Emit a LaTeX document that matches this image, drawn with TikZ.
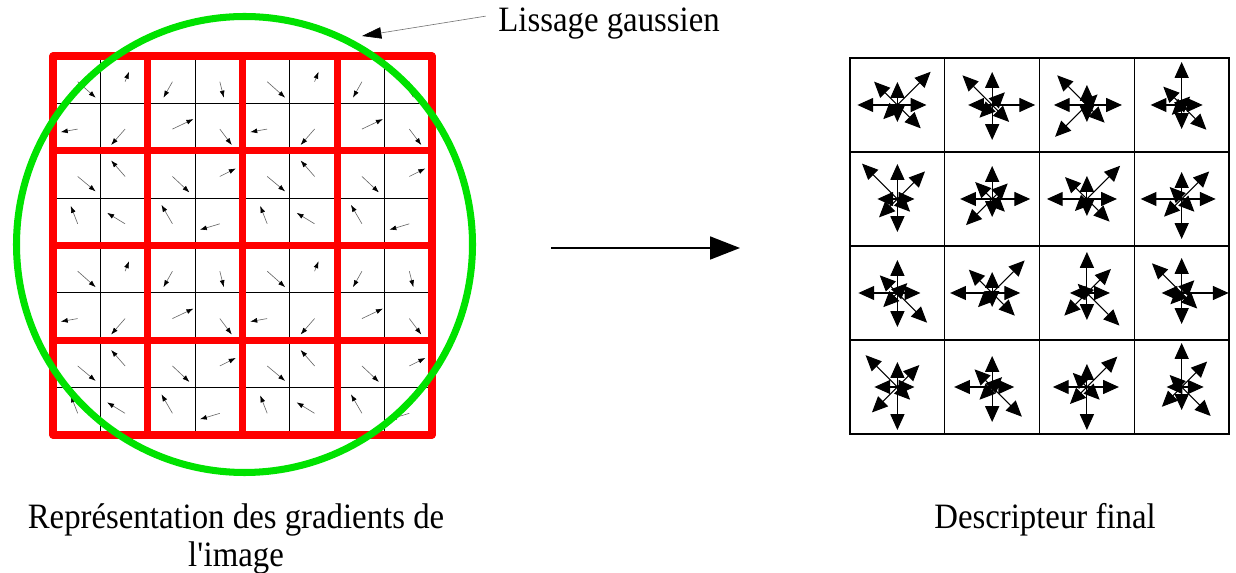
\documentclass[tikz,border=0pt]{standalone}
\usepackage{fontspec}
\setmainfont{Liberation Serif}[FakeStretch=0.92]
\usetikzlibrary{arrows.meta}
\definecolor{blockred}{RGB}{255,0,0}
\definecolor{windowgreen}{RGB}{0,226,0}

\begin{document}
\begin{tikzpicture}[x=0.02cm, y=-0.02cm,
  caption/.style={font=\fontsize{20.3}{21.5}\selectfont, inner sep=0pt},
  cellline/.style={draw=black, line width=0.7pt},
  blockline/.style={draw=blockred, line width=4pt, line join=round},
  window/.style={draw=windowgreen, line width=4pt},
  gradarrow/.style={draw=black!60, line width=0.35pt, -{Latex[length=4pt, width=2.8pt, color=black]}},
  binline/.style={draw=black, line width=0.7pt},
  binarrow/.style={draw=black, line width=0.6pt, -{Triangle[length=9pt, width=8pt]}},
  flow/.style={draw=black, line width=1.1pt, -{Triangle[length=17pt, width=13pt]}},
  pointer/.style={draw=black!55, line width=0.35pt, -{Triangle[length=11pt, width=6.5pt, color=black]}},
]
\useasboundingbox (0,0) rectangle (1236,573);

% ---------- gradient field: 8x8 cells, the 4x4 pattern tiled twice each way ----------
\foreach \tx in {0,1}
  \foreach \ty in {0,1}
    \foreach \r/\c/\dx/\dy in {0/0/18/16, 0/1/4/-10, 0/2/-9/16, 0/3/4/16,
                               1/0/-17/3, 1/1/-14/16, 1/2/21/-10, 1/3/12/16,
                               2/0/18/15, 2/1/-14/-16, 2/2/17/16, 2/3/16/-8,
                               3/0/-7/-18, 3/1/-18/-11, 3/2/-11/-19, 3/3/-20/6}
      \draw[gradarrow] ({77.7+47.375*(4*\tx+\c)},{81.7+47.375*(4*\ty+\r)}) -- ++(\dx,\dy);
% pixel lines
\foreach \i in {1,3,5,7} {
  \draw[cellline] ({53+47.375*\i},56) -- ++(0,379);
  \draw[cellline] (53,{56+47.375*\i}) -- ++(379,0);
}
% 4x4 blocks
\draw[blockline] (53,56) rectangle (432,435);
\foreach \i in {2,4,6} {
  \draw[blockline] ({53+47.375*\i},56) -- ++(0,379);
  \draw[blockline] (53,{56+47.375*\i}) -- ++(379,0);
}
% gaussian window
\draw[window] (244.5,244.5) circle (228);

\node[caption, anchor=base west] (lissage) at (498,32) {Lissage gaussien};
\coordinate (windowedge) at (362,36);
\draw[pointer] ([xshift=-7pt, yshift=4.5pt]lissage.west) -- (windowedge);

% ---------- arrow between the two panels ----------
\coordinate (flowfrom) at (551,248);
\coordinate (flowto) at (740,248);
\draw[flow] (flowfrom) -- (flowto);

% ---------- descriptor: 4x4 histograms of 8 bins ----------
\foreach \i in {1,2,3} {
  \draw[binline] ({850+94.75*\i},58) -- ++(0,376);
  \draw[binline] (850,{58+94*\i}) -- ++(379,0);
}
\draw[binline, line width=1pt] (850,58) rectangle (1229,434);
% bins: E, NE, N, NW, W, SW, S, SE
\foreach \r/\c/\lE/\lNE/\lN/\lNW/\lW/\lSW/\lS/\lSE in {
    0/0/29/47/23/33/40/20/17/33, 0/1/43/18/33/42/24/18/35/24,
    0/2/35/15/20/42/33/45/17/25, 0/3/21/12/43/26/31/14/24/35,
    1/0/17/39/35/50/20/26/33/18, 1/1/38/22/33/24/32/37/18/18,
    1/2/30/47/23/31/40/17/17/32, 1/3/34/39/27/17/41/25/40/18,
    2/0/23/14/33/25/39/20/34/42, 2/1/28/46/21/33/42/20/14/32,
    2/2/23/34/41/13/17/32/27/46, 2/3/47/18/35/42/20/16/31/22,
    3/0/17/31/25/45/23/36/43/18, 3/1/22/14/31/25/38/18/35/42,
    3/2/32/43/23/20/34/24/43/18, 3/3/22/36/44/17/15/28/23/41} {
  \coordinate (bin) at ({897.4+94.75*\c},{105+94*\r});
  \foreach \a/\l in {0/\lE, -45/\lNE, -90/\lN, -135/\lNW, 180/\lW, 135/\lSW, 90/\lS, 45/\lSE}
    \draw[binarrow] (bin) -- ++(\a:\l);
}

% ---------- captions ----------
\node[caption, align=center, anchor=base] (gradcap) at (236,566) {Représentation des gradients de\\l\textquotesingle image};
\node[caption, anchor=base] (desccap) at (1045,528) {Descripteur final};
\end{tikzpicture}
\end{document}
